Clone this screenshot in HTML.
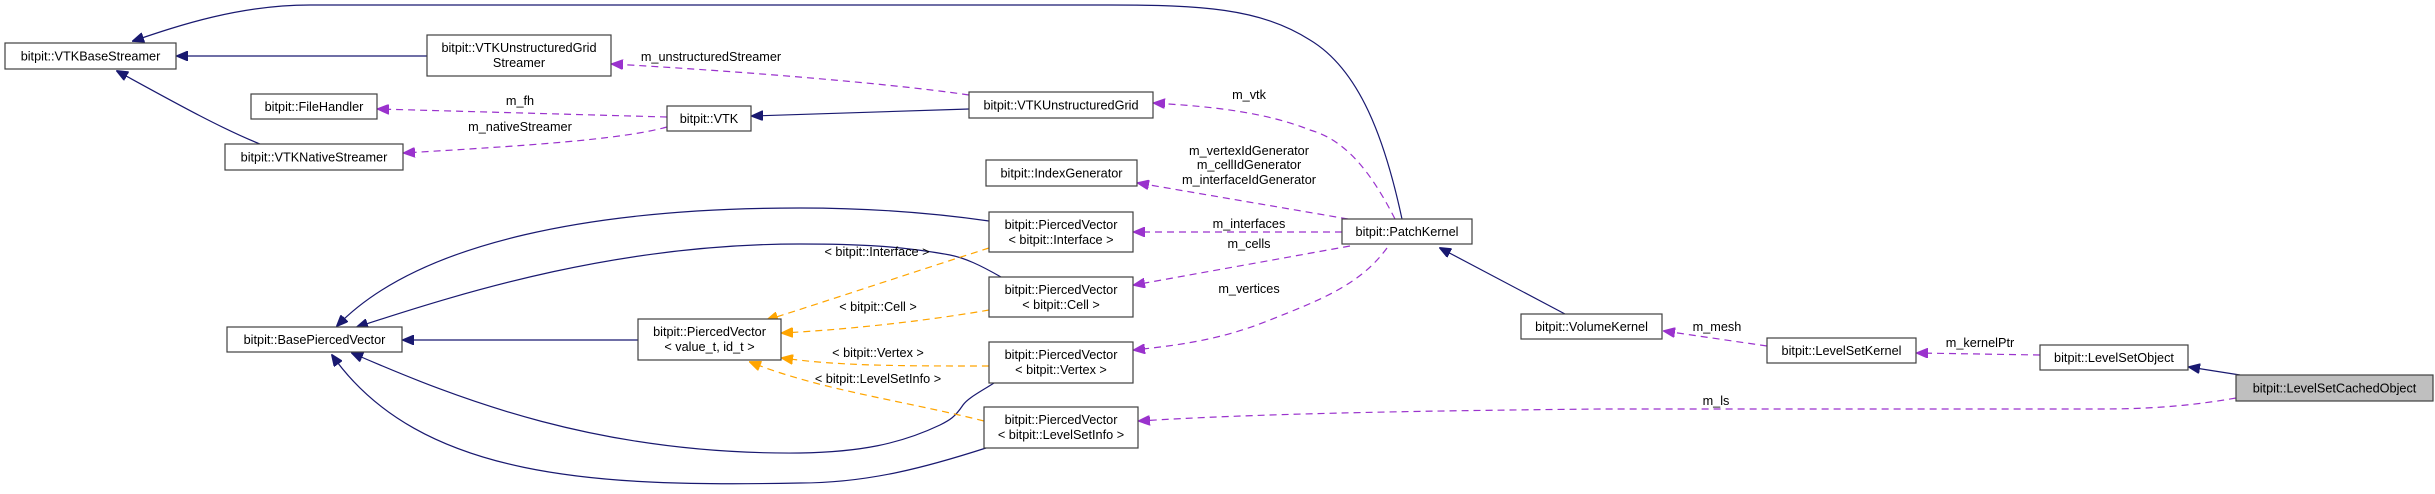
<!DOCTYPE html>
<html><head><meta charset="utf-8"><style>
html,body{margin:0;padding:0;background:#fff;}
svg{display:block;}
text{font-family:"Liberation Sans",sans-serif;font-size:12.7px;fill:#000;}
.n{fill:#fff;stroke:#404040;stroke-width:1.2;}
.b{fill:none;stroke:#191970;stroke-width:1.2;}
.p{fill:none;stroke:#9a32cd;stroke-width:1.2;stroke-dasharray:7,5;}
.o{fill:none;stroke:#ffa500;stroke-width:1.2;stroke-dasharray:7,5;}
.ab{fill:#191970;stroke:#191970;}
.ap{fill:#9a32cd;stroke:#9a32cd;}
.ao{fill:#ffa500;stroke:#ffa500;}
</style></head><body>
<svg width="2435" height="494" viewBox="0 0 2435 494" xmlns="http://www.w3.org/2000/svg">
<defs>
<marker id="mb" markerWidth="12" markerHeight="10" refX="11" refY="5" orient="auto" markerUnits="userSpaceOnUse"><path d="M0,0 L12,5 L0,10 z" class="ab"/></marker>
<marker id="mp" markerWidth="12" markerHeight="10" refX="11" refY="5" orient="auto" markerUnits="userSpaceOnUse"><path d="M0,0 L12,5 L0,10 z" class="ap"/></marker>
<marker id="mo" markerWidth="12" markerHeight="10" refX="11" refY="5" orient="auto" markerUnits="userSpaceOnUse"><path d="M0,0 L12,5 L0,10 z" class="ao"/></marker>
</defs>

<!-- edges blue -->
<path class="b" marker-end="url(#mb)" d="M1402,219 C1385,140 1360,70 1310,40 C1260,8 1200,5 1110,5 L310,5 C240,5 180,25 133,41"/>
<path class="b" marker-end="url(#mb)" d="M427,56 L177,56"/>
<path class="b" marker-end="url(#mb)" d="M260,144 C220,128 170,100 117,71"/>
<path class="b" marker-end="url(#mb)" d="M969,109 L752,116"/>
<path class="b" marker-end="url(#mb)" d="M1565,314 L1440,248"/>
<path class="b" marker-end="url(#mb)" d="M2240,375 L2189,367"/>
<path class="b" marker-end="url(#mb)" d="M638,340 L403,340"/>
<path class="b" marker-end="url(#mb)" d="M989,221 C940,214 880,208 800,208 C600,208 420,240 337,326"/>
<path class="b" marker-end="url(#mb)" d="M1001,277 C980,265 965,258 950,255 C900,246 860,244 800,244 C620,244 470,290 357,327"/>
<path class="b" marker-end="url(#mb)" d="M994,383 C980,392 968,398 963,405 C955,417 950,420 940,425 C900,444 860,452 800,453 C600,455 460,400 352,353"/>
<path class="b" marker-end="url(#mb)" d="M986,448 C930,466 870,483 800,483 C600,487 420,480 332,355"/>

<!-- edges purple -->
<path class="p" marker-end="url(#mp)" d="M667,117 L378,109"/>
<path class="p" marker-end="url(#mp)" d="M667,127 C620,140 520,146 404,153"/>
<path class="p" marker-end="url(#mp)" d="M969,95 C880,82 720,70 612,64"/>
<path class="p" marker-end="url(#mp)" d="M1395,219 C1370,170 1345,140 1310,130 C1260,110 1200,106 1154,103"/>
<path class="p" marker-end="url(#mp)" d="M1348,219 L1138,183"/>
<path class="p" marker-end="url(#mp)" d="M1342,232 L1134,232"/>
<path class="p" marker-end="url(#mp)" d="M1350,246 L1134,285"/>
<path class="p" marker-end="url(#mp)" d="M1387,248 C1360,285 1320,300 1270,320 C1220,340 1180,345 1134,350"/>
<path class="p" marker-end="url(#mp)" d="M1767,346 L1664,331"/>
<path class="p" marker-end="url(#mp)" d="M2040,355 L1917,353"/>
<path class="p" marker-end="url(#mp)" d="M2236,398 C2190,406 2150,409 2100,409 L1600,409 C1400,411 1250,414 1139,421"/>

<!-- edges orange -->
<path class="o" marker-end="url(#mo)" d="M989,248 C920,270 830,300 767,320"/>
<path class="o" marker-end="url(#mo)" d="M989,310 C920,322 840,330 782,333"/>
<path class="o" marker-end="url(#mo)" d="M989,366 C900,366 840,366 782,358"/>
<path class="o" marker-end="url(#mo)" d="M984,421 C900,400 820,390 750,362"/>

<!-- nodes -->
<rect class="n" x="5" y="43" width="171" height="26"/><text x="90.5" y="60.5" text-anchor="middle">bitpit::VTKBaseStreamer</text>
<rect class="n" x="427" y="35" width="184" height="41"/><text x="519" y="52" text-anchor="middle">bitpit::VTKUnstructuredGrid</text><text x="519" y="67" text-anchor="middle">Streamer</text>
<rect class="n" x="251" y="94" width="126" height="25"/><text x="314" y="111" text-anchor="middle">bitpit::FileHandler</text>
<rect class="n" x="667" y="106" width="84" height="25"/><text x="709" y="123" text-anchor="middle">bitpit::VTK</text>
<rect class="n" x="225" y="144" width="178" height="26"/><text x="314" y="161.5" text-anchor="middle">bitpit::VTKNativeStreamer</text>
<rect class="n" x="227" y="327" width="175" height="25"/><text x="314.5" y="344" text-anchor="middle">bitpit::BasePiercedVector</text>
<rect class="n" x="638" y="319" width="143" height="41"/><text x="709.5" y="336" text-anchor="middle">bitpit::PiercedVector</text><text x="709.5" y="351" text-anchor="middle">&lt; value_t, id_t &gt;</text>
<rect class="n" x="969" y="92" width="184" height="26"/><text x="1061" y="109.5" text-anchor="middle">bitpit::VTKUnstructuredGrid</text>
<rect class="n" x="986" y="160" width="151" height="26"/><text x="1061.5" y="177.5" text-anchor="middle">bitpit::IndexGenerator</text>
<rect class="n" x="989" y="212" width="144" height="40"/><text x="1061" y="229" text-anchor="middle">bitpit::PiercedVector</text><text x="1061" y="244" text-anchor="middle">&lt; bitpit::Interface &gt;</text>
<rect class="n" x="989" y="277" width="144" height="40"/><text x="1061" y="294" text-anchor="middle">bitpit::PiercedVector</text><text x="1061" y="309" text-anchor="middle">&lt; bitpit::Cell &gt;</text>
<rect class="n" x="989" y="342" width="144" height="41"/><text x="1061" y="359" text-anchor="middle">bitpit::PiercedVector</text><text x="1061" y="374" text-anchor="middle">&lt; bitpit::Vertex &gt;</text>
<rect class="n" x="984" y="407" width="154" height="41"/><text x="1061" y="424" text-anchor="middle">bitpit::PiercedVector</text><text x="1061" y="439" text-anchor="middle">&lt; bitpit::LevelSetInfo &gt;</text>
<rect class="n" x="1342" y="219" width="130" height="25"/><text x="1407" y="236" text-anchor="middle">bitpit::PatchKernel</text>
<rect class="n" x="1521" y="314" width="141" height="25"/><text x="1591.5" y="331" text-anchor="middle">bitpit::VolumeKernel</text>
<rect class="n" x="1767" y="338" width="149" height="25"/><text x="1841.5" y="355" text-anchor="middle">bitpit::LevelSetKernel</text>
<rect class="n" x="2040" y="345" width="148" height="25"/><text x="2114" y="362" text-anchor="middle">bitpit::LevelSetObject</text>
<rect x="2236" y="375" width="197" height="26" fill="#bfbfbf" stroke="#404040" stroke-width="1.2"/><text x="2334.5" y="392.5" text-anchor="middle">bitpit::LevelSetCachedObject</text>

<!-- edge labels -->
<text x="711" y="61" text-anchor="middle">m_unstructuredStreamer</text>
<text x="520" y="105" text-anchor="middle">m_fh</text>
<text x="520" y="131" text-anchor="middle">m_nativeStreamer</text>
<text x="1249" y="99" text-anchor="middle">m_vtk</text>
<text x="1249" y="155" text-anchor="middle">m_vertexIdGenerator</text>
<text x="1249" y="169" text-anchor="middle">m_cellIdGenerator</text>
<text x="1249" y="184" text-anchor="middle">m_interfaceIdGenerator</text>
<text x="1249" y="228" text-anchor="middle">m_interfaces</text>
<text x="1249" y="248" text-anchor="middle">m_cells</text>
<text x="1249" y="293" text-anchor="middle">m_vertices</text>
<text x="877" y="256" text-anchor="middle">&lt; bitpit::Interface &gt;</text>
<text x="878" y="311" text-anchor="middle">&lt; bitpit::Cell &gt;</text>
<text x="878" y="357" text-anchor="middle">&lt; bitpit::Vertex &gt;</text>
<text x="878" y="383" text-anchor="middle">&lt; bitpit::LevelSetInfo &gt;</text>
<text x="1717" y="331" text-anchor="middle">m_mesh</text>
<text x="1980" y="347" text-anchor="middle">m_kernelPtr</text>
<text x="1716" y="405" text-anchor="middle">m_ls</text>
</svg>
</body></html>
